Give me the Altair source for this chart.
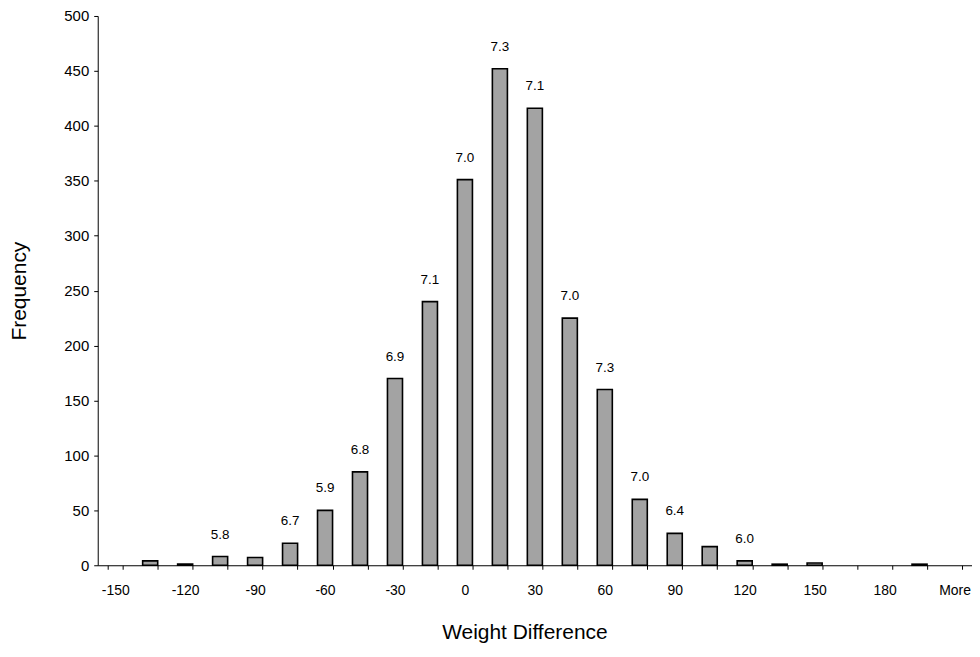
import altair as alt
import pandas as pd

categories = ["-150", "-135", "-120", "-105", "-90", "-75", "-60", "-45", "-30", "-15",
              "0", "15", "30", "45", "60", "75", "90", "105", "120", "135", "150",
              "165", "180", "195", "More"]
frequency = [0, 4, 1, 8, 7, 20, 50, 85, 170, 240, 351, 452, 416, 225, 160, 60, 29, 17,
             4, 1, 2, 0, 0, 1, 0]

label_categories = ["-105", "-75", "-60", "-45", "-30", "-15", "0", "15", "30", "45",
                    "60", "75", "90", "120"]
label_texts = ["5.8", "6.7", "5.9", "6.8", "6.9", "7.1", "7.0", "7.3", "7.1", "7.0",
               "7.3", "7.0", "6.4", "6.0"]

shown_ticks = ["-150", "-120", "-90", "-60", "-30", "0", "30", "60", "90", "120",
               "150", "180", "More"]

lab_map = dict(zip(label_categories, label_texts))
df = pd.DataFrame({
    "bin": categories,
    "freq": frequency,
    "label": [lab_map.get(c, "") for c in categories],
})

FONT = "Liberation Sans"
label_expr = "indexof([" + ",".join("'" + t + "'" for t in shown_ticks) + "], datum.label) >= 0 ? datum.label : ''"

x_enc = alt.X(
    "bin:N", sort=categories,
    scale=alt.Scale(domain=categories, paddingInner=0.57, paddingOuter=0.285),
    axis=alt.Axis(title="Weight Difference", labelAngle=0, labelExpr=label_expr,
                  labelOverlap=False, tickBand="extent", tickSize=4, labelPadding=14,
                  labelFontSize=14, titleFontSize=21, titlePadding=24, titleX=428,
                  domainColor="black", tickColor="black"),
)
y_enc = alt.Y(
    "freq:Q",
    scale=alt.Scale(domain=[0, 500], nice=False),
    axis=alt.Axis(title="Frequency", values=list(range(0, 501, 50)), grid=False,
                  tickSize=4, labelPadding=5, labelFontSize=15, titleFontSize=21,
                  titlePadding=34, domainColor="black", tickColor="black"),
)

bars = alt.Chart(df).transform_filter("datum.freq > 0").mark_bar(
    fill="#a3a3a3", stroke="black", strokeWidth=1.6
).encode(x=x_enc, y=y_enc)

texts = alt.Chart(df).transform_filter("datum.label != ''").mark_text(
    dy=-22, fontSize=13.5, font=FONT, color="black", baseline="middle"
).encode(
    x=alt.X("bin:N", sort=categories, scale=alt.Scale(domain=categories)),
    y=alt.Y("freq:Q"),
    text="label:N",
)

chart = alt.layer(bars, texts).properties(
    width=877, height=551,
    autosize=alt.AutoSizeParams(type="none"),
    padding={"left": 90, "top": 7, "right": 0, "bottom": 82},
).configure_view(stroke=None).configure_axis(
    labelFont=FONT, titleFont=FONT, labelColor="black", titleColor="black",
    titleFontWeight="normal",
)

chart.save("out.html", embed_options={"renderer": "svg", "actions": False})
